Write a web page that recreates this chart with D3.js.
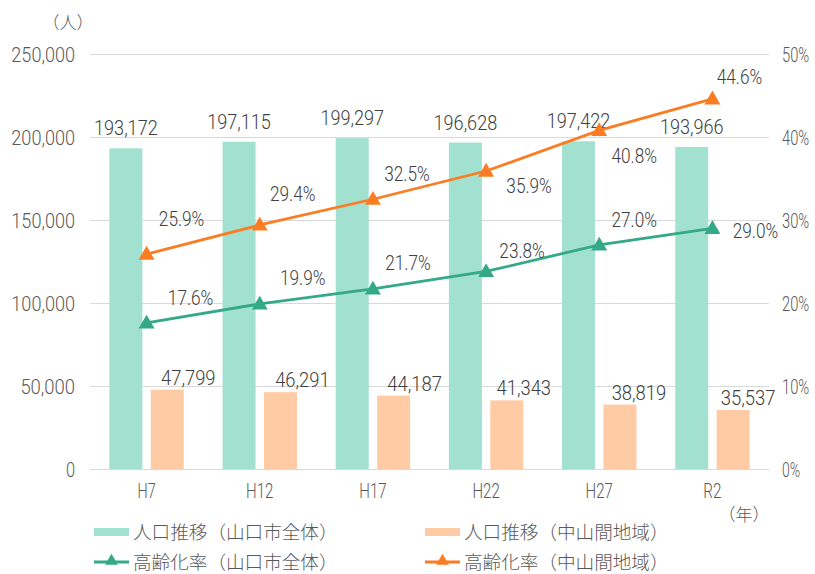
<!DOCTYPE html>
<html><head><meta charset="utf-8">
<script src="https://cdn.jsdelivr.net/npm/d3@7"></script>
<style>
html,body{margin:0;padding:0;background:#fff;}
svg{display:block;}
</style>
</head><body>
<svg id="chart" width="815" height="574"></svg>
<script>
// ---- data ----
const categories = ["H7", "H12", "H17", "H22", "H27", "R2"];
const popCity = [193172, 197115, 199297, 196628, 197422, 193966];
const popMountain = [47799, 46291, 44187, 41343, 38819, 35537];
const agingCity = [17.6, 19.9, 21.7, 23.8, 27.0, 29.0];
const agingMountain = [25.9, 29.4, 32.5, 35.9, 40.8, 44.6];
const leftTicks = [0, 50000, 100000, 150000, 200000, 250000];
const rightTicks = [0, 10, 20, 30, 40, 50];
const seriesNames = ["人口推移（山口市全体）", "人口推移（中山間地域）", "高齢化率（山口市全体）", "高齢化率（中山間地域）"];

// ---- layout / style ----
const C = {
  barCity: "#a2e1d0", barMtn: "#ffcba4",
  lineCity: "#34a987", lineMtn: "#fb7d23",
  grid: "#d9d9d9", tick: "#595959", label: "#404040"
};
const NUMFONT = "Roboto, 'Noto Sans', sans-serif";
const JPFONT = "'Noto Sans CJK JP', 'Noto Sans', sans-serif";
const CHARW = 9.1;
// label nudges (dx, dy of text centre from marker)
const nudgeCity = [[44,-25],[43,-26],[35,-26],[36,-21],[35,-25],[43,2]];
const nudgeMtn = [[35,-36],[33,-31],[34,-26],[43,14],[35,25],[27,-22]];
const mtnLabelDx = [21,22,21,17,19,15];

const svg = d3.select("#chart");
const x = d3.scaleBand().domain(categories).range([90, 769]);
const yL = d3.scaleLinear().domain([0, 250000]).range([469, 54]);
const yR = d3.scaleLinear().domain([0, 50]).range([469, 54]);
const fmt = d3.format(",");

// condensed numeric text: natural glyphs horizontally scaled to a fixed per-character width
function numText(g, str, px, py, anchor, size, color, cw) {
  const wrap = g.append("g").attr("transform", `translate(${px},${py})`);
  const t = wrap.append("text")
    .attr("x", 0).attr("y", 0)
    .attr("text-anchor", anchor)
    .attr("font-family", NUMFONT)
    .attr("font-weight", 300)
    .attr("font-size", size)
    .attr("fill", color)
    .text(str);
  const natural = t.node().getComputedTextLength();
  const target = str.length * (cw || CHARW);
  const k = natural > 0 ? target / natural : 1;
  wrap.attr("transform", `translate(${px},${py}) scale(${k},1)`);
  return t;
}

// gridlines
svg.append("g").selectAll("line").data(leftTicks).join("line")
  .attr("x1", 90).attr("x2", 769)
  .attr("y1", d => yL(d) + 0.5).attr("y2", d => yL(d) + 0.5)
  .attr("stroke", C.grid).attr("stroke-width", 1.2);

// left tick labels
const gl = svg.append("g");
leftTicks.forEach(v => numText(gl, fmt(v), 75, yL(v) + 7.5, "end", 20, C.tick));
// right tick labels
const gr = svg.append("g");
rightTicks.forEach(v => numText(gr, v + "%", 782, yR(v) + 7.5, "start", 20, C.tick, 9.1));
// category labels
const gc = svg.append("g");
categories.forEach(c => numText(gc, c, x(c) + x.bandwidth() / 2, 497.5, "middle", 20, C.tick));

// units
svg.append("text").attr("x", 68).attr("y", 29).attr("text-anchor", "middle")
  .attr("font-family", JPFONT).attr("font-weight", 300).attr("font-size", 17).attr("fill", C.tick).text("（人）");
svg.append("text").attr("x", 744).attr("y", 521).attr("text-anchor", "middle")
  .attr("font-family", JPFONT).attr("font-weight", 300).attr("font-size", 17).attr("fill", C.tick).text("（年）");

// bars
const bw = 33;
const cx = c => x(c) + x.bandwidth() / 2;
svg.append("g").selectAll("rect").data(popCity).join("rect")
  .attr("x", (d, i) => cx(categories[i]) - 4.2 - bw)
  .attr("y", d => yL(d)).attr("width", bw)
  .attr("height", d => yL(0) - yL(d)).attr("fill", C.barCity);
svg.append("g").selectAll("rect").data(popMountain).join("rect")
  .attr("x", (d, i) => cx(categories[i]) + 4.2)
  .attr("y", d => yL(d)).attr("width", bw)
  .attr("height", d => yL(0) - yL(d)).attr("fill", C.barMtn);

// bar labels
const gbl = svg.append("g");
popCity.forEach((d, i) => numText(gbl, fmt(d), cx(categories[i]) - 4.2 - bw / 2, yL(d) - 13, "middle", 21, C.label));
popMountain.forEach((d, i) => numText(gbl, fmt(d), cx(categories[i]) + 4.2 + bw / 2 + mtnLabelDx[i], yL(d) - 5, "middle", 21, C.label));

// lines
const line = d3.line().x((d, i) => cx(categories[i])).y(d => yR(d));
const tri = d3.symbol().type(d3.symbolTriangle).size(110);
function drawLine(vals, color, nudges) {
  svg.append("path").datum(vals).attr("d", line)
    .attr("fill", "none").attr("stroke", color).attr("stroke-width", 2.8);
  svg.append("g").selectAll("path").data(vals).join("path")
    .attr("d", tri)
    .attr("transform", (d, i) => `translate(${cx(categories[i])},${yR(d) + 1})`)
    .attr("fill", color);
  const g = svg.append("g");
  vals.forEach((d, i) => numText(g, d.toFixed(1) + "%", cx(categories[i]) + nudges[i][0], yR(d) + nudges[i][1] + 7.5, "middle", 21, C.label));
}
drawLine(agingCity, C.lineCity, nudgeCity);
drawLine(agingMountain, C.lineMtn, nudgeMtn);

// legend
const legend = svg.append("g");
const legPos = [[94, 532], [425, 532], [94, 562], [425, 562]];
seriesNames.forEach((name, i) => {
  const [lx, ly] = legPos[i];
  if (i < 2) {
    legend.append("rect").attr("x", lx).attr("y", ly - 4).attr("width", 35).attr("height", 8)
      .attr("fill", i === 0 ? C.barCity : C.barMtn);
  } else {
    const col = i === 2 ? C.lineCity : C.lineMtn;
    legend.append("line").attr("x1", lx).attr("x2", lx + 35).attr("y1", ly).attr("y2", ly)
      .attr("stroke", col).attr("stroke-width", 2.8);
    legend.append("path").attr("d", d3.symbol().type(d3.symbolTriangle).size(70))
      .attr("transform", `translate(${lx + 17.5},${ly - 1})`).attr("fill", col);
  }
  legend.append("text").attr("x", lx + 39).attr("y", ly + 6.5)
    .attr("font-family", JPFONT).attr("font-weight", 300).attr("font-size", 18.6).attr("fill", C.tick).text(name);
});
</script>
</body></html>
